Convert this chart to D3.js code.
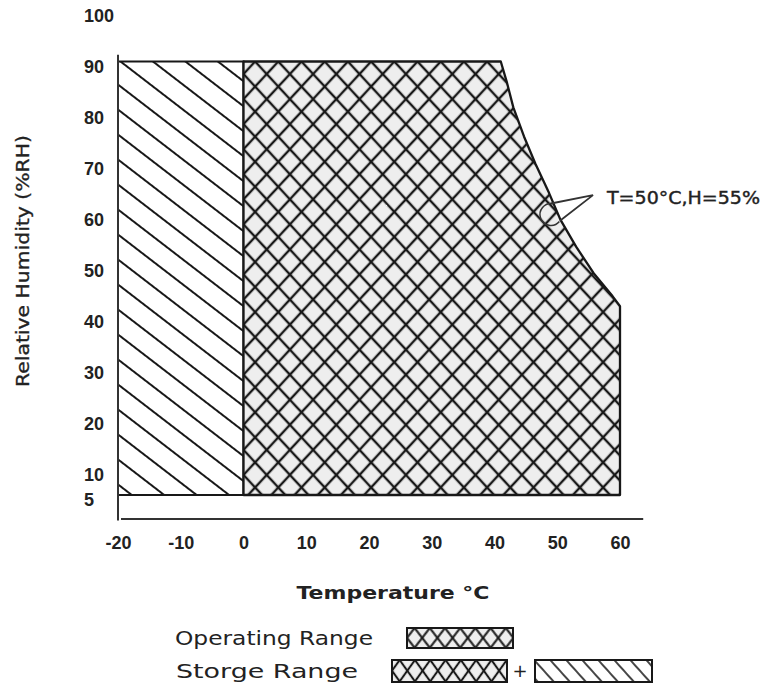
<!DOCTYPE html>
<html><head><meta charset="utf-8">
<script src="https://cdn.jsdelivr.net/npm/d3@7"></script>
<style>
html,body{margin:0;padding:0;background:#fff;}
svg{display:block;}
</style></head>
<body>
<svg id="chart" width="763" height="686"></svg>
<script>
// ---------- data ----------
const xTicks = [-20, -10, 0, 10, 20, 30, 40, 50, 60];
const xTickLabels = ["-20", "-10", "0", "10", "20", "30", "40", "50", "60"];
const yTicks = [5, 10, 20, 30, 40, 50, 60, 70, 80, 90, 100];
const yTickLabels = ["5", "10", "20", "30", "40", "50", "60", "70", "80", "90", "100"];
// storage-only band (temperature °C, relative humidity %)
const storageT = [-20, 0, 0, -20];
const storageH = [5, 5, 90, 90];
// operating range boundary
const operatingT = [0, 41, 42, 43, 44.7, 46.5, 48.7, 50.5, 53, 55.8, 58.8, 60, 60, 0];
const operatingH = [90, 90, 85.8, 81, 75.3, 70, 64.2, 59, 53.7, 48.5, 44, 42, 5, 5];
// callout: marked point on the curve, leader anchor
const calloutT = [49, 55.7];
const calloutH = [60, 63.8];
const calloutText = "T=50°C,H=55%";
const xTitle = "Temperature °C";
const yTitle = "Relative Humidity (%RH)";
const legendLabels = ["Operating Range", "Storge Range"];

// ---------- layout ----------
const svg = d3.select("#chart");
const x = d3.scaleLinear().domain([-20, 60]).range([118, 620]);
const y = d3.scaleLinear().domain([0, 100]).range([520.5, 10.5]);
const ink = "#181818";
const txt = "#222";

const defs = svg.append("defs");
function crossPattern(id, period, sy, sw, bg, tx, ty) {
  const s = period / Math.SQRT2;
  const p = defs.append("pattern").attr("id", id)
    .attr("patternUnits", "userSpaceOnUse")
    .attr("width", s).attr("height", s)
    .attr("patternTransform", `translate(${tx},${ty}) scale(1,${sy}) rotate(45)`);
  p.append("rect").attr("width", s).attr("height", s).attr("fill", bg);
  p.append("line").attr("x1", -1).attr("x2", s + 1).attr("y1", s / 2).attr("y2", s / 2)
    .attr("stroke", ink).attr("stroke-width", sw);
  p.append("line").attr("y1", -1).attr("y2", s + 1).attr("x1", s / 2).attr("x2", s / 2)
    .attr("stroke", ink).attr("stroke-width", sw);
}
function diagPattern(id, spacing, angle, sw, tx, ty) {
  const p = defs.append("pattern").attr("id", id)
    .attr("patternUnits", "userSpaceOnUse")
    .attr("width", spacing).attr("height", spacing)
    .attr("patternTransform", `translate(${tx},${ty}) rotate(${angle})`);
  p.append("rect").attr("width", spacing).attr("height", spacing).attr("fill", "#fff");
  p.append("line").attr("x1", -1).attr("x2", spacing + 1).attr("y1", spacing / 2).attr("y2", spacing / 2)
    .attr("stroke", ink).attr("stroke-width", sw);
}
crossPattern("cross", 23.2, 1.08, 2.3, "#eeeeee", x(0), y(90));
diagPattern("diag", 19.8, 37.6, 2, x(-20), 247);
crossPattern("crossLeg1", 15.2, 1.3, 1.8, "#eeeeee", 407, 628);
crossPattern("crossLeg2", 15.3, 1.4, 1.8, "#eeeeee", 392, 660);
diagPattern("diagLeg", 11.9, 48, 1.6, 535, 652);

const pts = (T, H) => T.map((t, i) => [x(t), y(H[i])]);
const line = d3.line();

// storage band
svg.append("path").attr("d", line(pts(storageT, storageH)) + "Z")
  .attr("fill", "url(#diag)").attr("stroke", ink).attr("stroke-width", 2);
// operating range
svg.append("path").attr("d", line(pts(operatingT, operatingH)) + "Z")
  .attr("fill", "url(#cross)").attr("stroke", ink).attr("stroke-width", 2.3)
  .attr("stroke-linejoin", "round");

// axis lines
svg.append("path")
  .attr("d", `M${x(-20)},${y(91.3)}V${y(0)}M${x(-20) + 3},${y(0) - 1.5}H${x(63.7)}`)
  .attr("fill", "none").attr("stroke", "#333").attr("stroke-width", 2);

// y ticks
const gy = svg.append("g").attr("transform", "translate(84,5)")
  .call(d3.axisLeft(y).tickValues(yTicks).tickFormat((d, i) => yTickLabels[i]).tickSize(0));
gy.select(".domain").remove();
gy.selectAll("text").attr("x", 0).attr("text-anchor", "start")
  .attr("font-family", "Liberation Sans, Arial, sans-serif").attr("font-weight", "bold")
  .attr("font-size", 18).attr("fill", txt);

// x ticks
const gx = svg.append("g").attr("transform", "translate(0,543)")
  .call(d3.axisBottom(x).tickValues(xTicks).tickFormat((d, i) => xTickLabels[i]).tickSize(0).tickPadding(0));
gx.select(".domain").remove();
gx.selectAll("text").attr("y", 0).attr("dy", "0.35em")
  .attr("font-family", "Liberation Sans, Arial, sans-serif").attr("font-weight", "bold")
  .attr("font-size", 18).attr("fill", txt);

// titles
svg.append("text").attr("x", 393).attr("y", 593).attr("dy", "0.35em")
  .attr("text-anchor", "middle").attr("font-family", "DejaVu Sans, sans-serif")
  .attr("font-weight", "bold").attr("font-size", 18).attr("fill", txt)
  .attr("textLength", 193).attr("lengthAdjust", "spacingAndGlyphs").text(xTitle);
svg.append("text").attr("transform", "translate(23,261) rotate(-90)").attr("dy", "0.35em")
  .attr("text-anchor", "middle").attr("font-family", "DejaVu Sans, sans-serif")
  .attr("font-size", 17).attr("fill", txt).attr("stroke", txt).attr("stroke-width", 0.3)
  .attr("textLength", 252).attr("lengthAdjust", "spacingAndGlyphs").text(yTitle);

// callout
const cx = x(calloutT[0]), cy = y(calloutH[0]), r = 11;
const arc = d3.path();
arc.arc(cx, cy, r, -80 * Math.PI / 180, 40 * Math.PI / 180, true);
svg.append("path").attr("d", arc.toString()).attr("fill", "none")
  .attr("stroke", "#333").attr("stroke-width", 1.5);
const ax = x(calloutT[1]), ay = y(calloutH[1]);
const a1 = -90 * Math.PI / 180, a2 = 35 * Math.PI / 180;
svg.append("path")
  .attr("d", `M${cx + r * Math.cos(a1)},${cy + r * Math.sin(a1)}L${ax},${ay}L${cx + r * Math.cos(a2)},${cy + r * Math.sin(a2)}`)
  .attr("fill", "none").attr("stroke", "#333").attr("stroke-width", 1.8);
svg.append("text").attr("x", ax + 14).attr("y", ay + 3).attr("dy", "0.35em")
  .attr("font-family", "DejaVu Sans, sans-serif").attr("font-size", 17)
  .attr("fill", txt).attr("stroke", txt).attr("stroke-width", 0.4)
  .attr("textLength", 153).attr("lengthAdjust", "spacingAndGlyphs")
  .text(calloutText);

// legend
const legFont = "DejaVu Sans, sans-serif";
svg.append("text").attr("x", 175).attr("y", 638).attr("dy", "0.35em")
  .attr("font-family", legFont).attr("font-size", 20).attr("fill", txt)
  .attr("textLength", 198).attr("lengthAdjust", "spacingAndGlyphs").text(legendLabels[0]);
svg.append("text").attr("x", 176).attr("y", 671).attr("dy", "0.35em")
  .attr("font-family", legFont).attr("font-size", 20).attr("fill", txt)
  .attr("textLength", 182).attr("lengthAdjust", "spacingAndGlyphs").text(legendLabels[1]);
svg.append("rect").attr("x", 407).attr("y", 628).attr("width", 106).attr("height", 20)
  .attr("fill", "url(#crossLeg1)").attr("stroke", ink).attr("stroke-width", 2);
svg.append("rect").attr("x", 392).attr("y", 660).attr("width", 115).attr("height", 22)
  .attr("fill", "url(#crossLeg2)").attr("stroke", ink).attr("stroke-width", 2);
svg.append("text").attr("x", 520).attr("y", 671).attr("dy", "0.35em").attr("text-anchor", "middle")
  .attr("font-family", legFont).attr("font-size", 18).attr("fill", txt).text("+");
svg.append("rect").attr("x", 535).attr("y", 660).attr("width", 117).attr("height", 22)
  .attr("fill", "url(#diagLeg)").attr("stroke", ink).attr("stroke-width", 2);
</script>
</body></html>
